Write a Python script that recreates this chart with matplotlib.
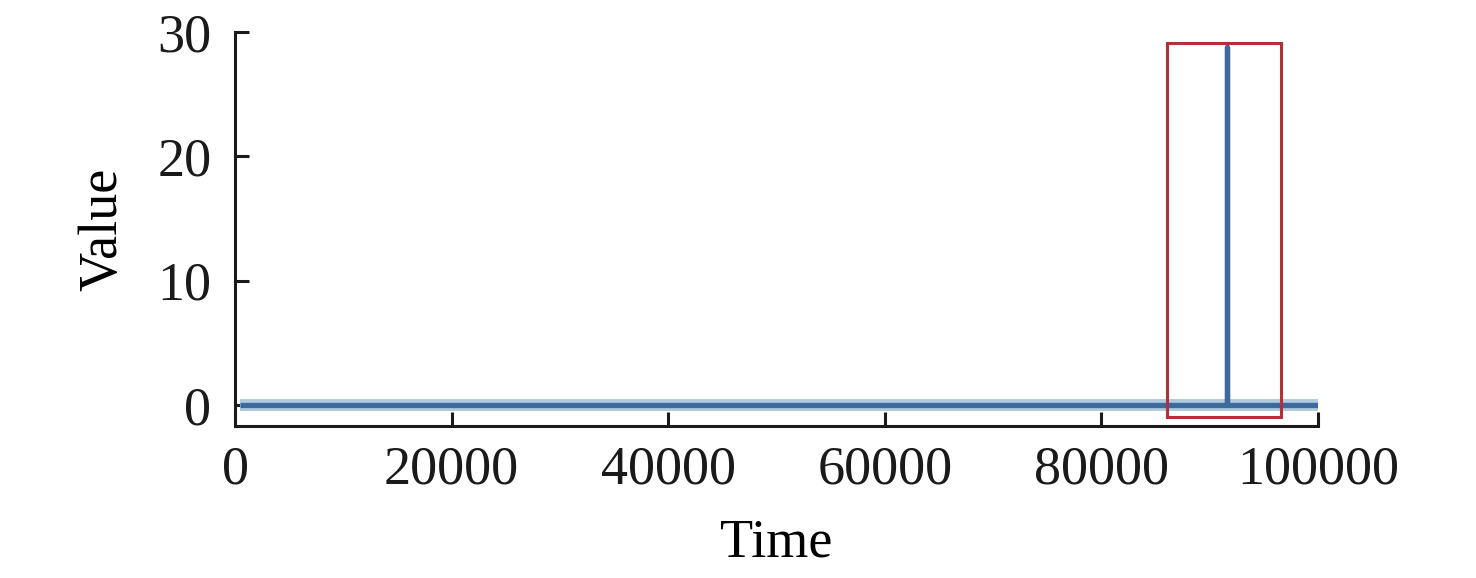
import numpy as np
import matplotlib.pyplot as plt
from matplotlib.patches import Rectangle

plt.rcParams['font.family'] = ['Liberation Serif', 'DejaVu Serif']

# series: flat at zero, one spike at t=91600
time = [500, 91600, 91600, 91600, 100000]
value = [0, 0, 28.8, 0, 0]

# light band around the flat baseline
band_t = [500, 100000]
band_lo = [-0.5, -0.5]
band_hi = [0.5, 0.5]

# highlighted region (red box)
box_t = [86100, 96600]
box_v = [-1.0, 29.1]

fig = plt.figure(figsize=(14.76, 5.78), dpi=100)
ax = fig.add_axes([235/1476, (578-426)/578, (1318-235)/1476, (426-32)/578])

ax.fill_between(band_t, band_lo, band_hi, color='#b0cae0', lw=0, zorder=2)
ax.plot(time, value, color='#3d699b', lw=3.8, solid_capstyle='butt', zorder=3)

ax.add_patch(Rectangle((box_t[0], box_v[0]), box_t[1]-box_t[0], box_v[1]-box_v[0],
                       fill=False, edgecolor='#b3303a', lw=2.2, zorder=4))

ax.set_xlim(0, 100000)
ax.set_ylim(-1.7, 30)
ax.set_xticks([0, 20000, 40000, 60000, 80000, 100000])
ax.set_yticks([0, 10, 20, 30])
for s in ['top', 'right']:
    ax.spines[s].set_visible(False)
for s in ['left', 'bottom']:
    ax.spines[s].set_linewidth(2.2)
    ax.spines[s].set_color('#1a1a1a')
ax.tick_params(direction='in', length=10, width=2.2, labelsize=39, colors='#1a1a1a')
ax.tick_params(axis='x', pad=14)
ax.tick_params(axis='y', pad=17)
ax.set_xlabel('Time', fontsize=39, labelpad=16)
ax.set_ylabel('Value', fontsize=39, labelpad=21)

fig.savefig('out.png', dpi=100)
